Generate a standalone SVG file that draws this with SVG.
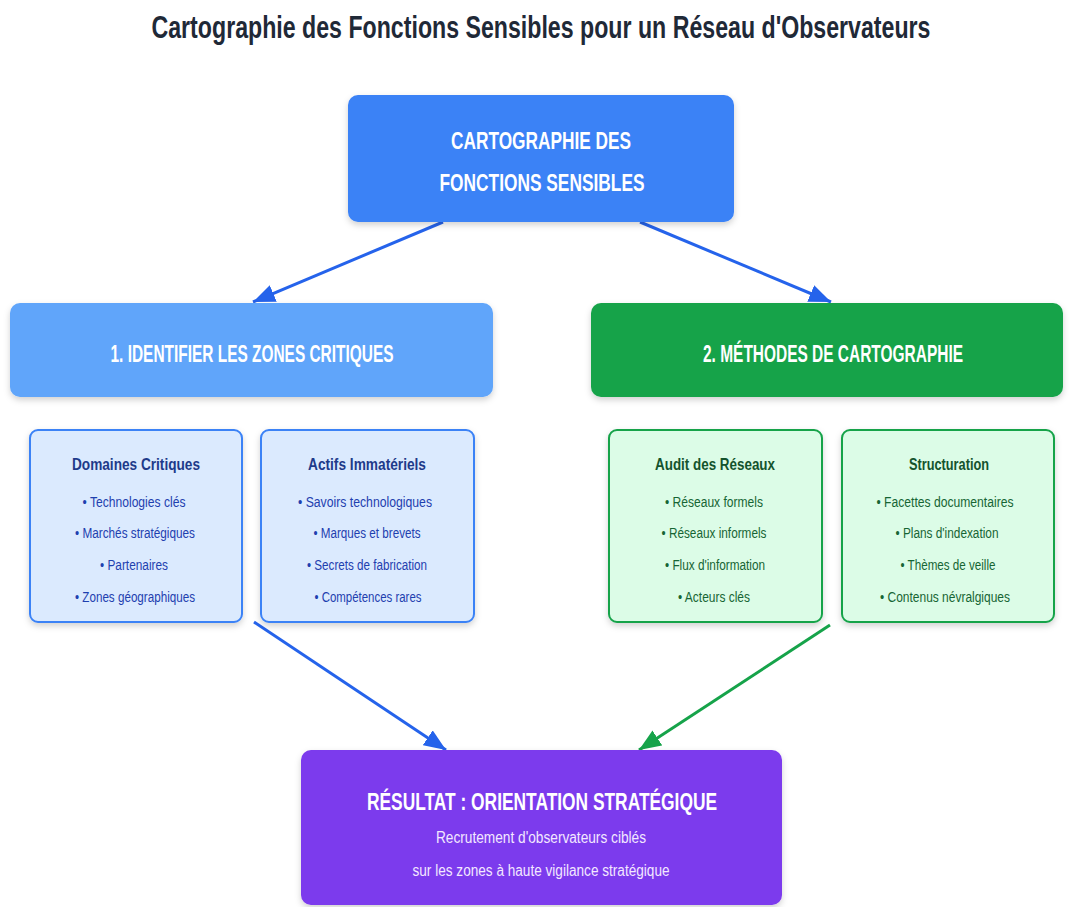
<svg xmlns="http://www.w3.org/2000/svg" width="1069" height="907" viewBox="0 0 1069 907">
<style>
text{font-family:"Liberation Sans",Arial,sans-serif;text-anchor:middle}
.title{font-size:31px;font-weight:bold;fill:#1f2937}
.wt{font-size:23px;font-weight:bold;fill:#ffffff}
.bt{font-size:16.5px;font-weight:bold;fill:#1e3a8a}
.bi{font-size:14px;fill:#1e40af}
.gt{font-size:16.5px;font-weight:bold;fill:#14532d}
.gi{font-size:14px;fill:#166534}
.rs{font-size:16px;fill:#f3e8ff}
.bbox{fill:#dbeafe;stroke:#3b82f6;stroke-width:2}
.gbox{fill:#dcfce7;stroke:#16a34a;stroke-width:2}
.cb{stroke:#2563eb;stroke-width:3;fill:none}
.cg{stroke:#16a34a;stroke-width:3;fill:none}
</style>
<defs>
<filter id="sh" x="-10%" y="-10%" width="120%" height="130%">
<feDropShadow dx="0" dy="3" stdDeviation="3" flood-color="#000" flood-opacity="0.18"/>
</filter>
<marker id="ab" viewBox="0 0 22 18" refX="22" refY="9" markerWidth="22" markerHeight="18" markerUnits="userSpaceOnUse" orient="auto">
<path d="M0,0 L22,9 L0,18 z" fill="#2563eb"/>
</marker>
<marker id="ag" viewBox="0 0 22 18" refX="22" refY="9" markerWidth="22" markerHeight="18" markerUnits="userSpaceOnUse" orient="auto">
<path d="M0,0 L22,9 L0,18 z" fill="#16a34a"/>
</marker>
</defs>
<rect width="1069" height="907" fill="#ffffff"/>
<text class="title" x="541" y="38" textLength="779" lengthAdjust="spacingAndGlyphs">Cartographie des Fonctions Sensibles pour un Réseau d'Observateurs</text>

<g id="connectors">
<line class="cb" x1="443" y1="222" x2="253" y2="302" marker-end="url(#ab)"/>
<line class="cb" x1="640" y1="222" x2="831" y2="302" marker-end="url(#ab)"/>
<line class="cb" x1="254" y1="622" x2="446" y2="750" marker-end="url(#ab)"/>
<line class="cg" x1="830" y1="625" x2="639" y2="750" marker-end="url(#ag)"/>
</g>

<g id="root">
<rect x="348" y="95" width="386" height="127" rx="10" fill="#3b82f6" filter="url(#sh)"/>
<text class="wt" x="541" y="149" textLength="180" lengthAdjust="spacingAndGlyphs">CARTOGRAPHIE DES</text>
<text class="wt" x="542" y="191" textLength="205" lengthAdjust="spacingAndGlyphs">FONCTIONS SENSIBLES</text>
</g>

<g id="zones">
<rect x="10" y="303" width="483" height="94" rx="10" fill="#60a5fa" filter="url(#sh)"/>
<text class="wt" x="252" y="362" textLength="283" lengthAdjust="spacingAndGlyphs">1. IDENTIFIER LES ZONES CRITIQUES</text>
</g>

<g id="methodes">
<rect x="591" y="303" width="472" height="94" rx="10" fill="#16a34a" filter="url(#sh)"/>
<text class="wt" x="833" y="362" textLength="260" lengthAdjust="spacingAndGlyphs">2. MÉTHODES DE CARTOGRAPHIE</text>
</g>

<g id="domaines">
<rect class="bbox" x="30" y="430" width="212" height="192" rx="8" filter="url(#sh)"/>
<text class="bt" x="136" y="470" textLength="128" lengthAdjust="spacingAndGlyphs">Domaines Critiques</text>
<text class="bi" x="134" y="507" textLength="103" lengthAdjust="spacingAndGlyphs">• Technologies clés</text>
<text class="bi" x="135" y="538" textLength="120" lengthAdjust="spacingAndGlyphs">• Marchés stratégiques</text>
<text class="bi" x="134" y="570" textLength="68" lengthAdjust="spacingAndGlyphs">• Partenaires</text>
<text class="bi" x="135" y="602" textLength="120" lengthAdjust="spacingAndGlyphs">• Zones géographiques</text>
</g>

<g id="actifs">
<rect class="bbox" x="261" y="430" width="213" height="192" rx="8" filter="url(#sh)"/>
<text class="bt" x="367" y="470" textLength="118" lengthAdjust="spacingAndGlyphs">Actifs Immatériels</text>
<text class="bi" x="365" y="507" textLength="134" lengthAdjust="spacingAndGlyphs">• Savoirs technologiques</text>
<text class="bi" x="367" y="538" textLength="107" lengthAdjust="spacingAndGlyphs">• Marques et brevets</text>
<text class="bi" x="367" y="570" textLength="120" lengthAdjust="spacingAndGlyphs">• Secrets de fabrication</text>
<text class="bi" x="368" y="602" textLength="107" lengthAdjust="spacingAndGlyphs">• Compétences rares</text>
</g>

<g id="audit">
<rect class="gbox" x="609" y="430" width="213" height="192" rx="8" filter="url(#sh)"/>
<text class="gt" x="715" y="470" textLength="120" lengthAdjust="spacingAndGlyphs">Audit des Réseaux</text>
<text class="gi" x="714" y="507" textLength="98" lengthAdjust="spacingAndGlyphs">• Réseaux formels</text>
<text class="gi" x="714" y="538" textLength="105" lengthAdjust="spacingAndGlyphs">• Réseaux informels</text>
<text class="gi" x="715" y="570" textLength="100" lengthAdjust="spacingAndGlyphs">• Flux d'information</text>
<text class="gi" x="714" y="602" textLength="72" lengthAdjust="spacingAndGlyphs">• Acteurs clés</text>
</g>

<g id="structuration">
<rect class="gbox" x="842" y="430" width="212" height="192" rx="8" filter="url(#sh)"/>
<text class="gt" x="949" y="470" textLength="80" lengthAdjust="spacingAndGlyphs">Structuration</text>
<text class="gi" x="945" y="507" textLength="137" lengthAdjust="spacingAndGlyphs">• Facettes documentaires</text>
<text class="gi" x="947" y="538" textLength="103" lengthAdjust="spacingAndGlyphs">• Plans d'indexation</text>
<text class="gi" x="948" y="570" textLength="95" lengthAdjust="spacingAndGlyphs">• Thèmes de veille</text>
<text class="gi" x="945" y="602" textLength="130" lengthAdjust="spacingAndGlyphs">• Contenus névralgiques</text>
</g>

<g id="resultat">
<rect x="301" y="750" width="481" height="155" rx="10" fill="#7c3aed" filter="url(#sh)"/>
<text class="wt" x="542" y="810" font-size="25" textLength="350" lengthAdjust="spacingAndGlyphs">RÉSULTAT : ORIENTATION STRATÉGIQUE</text>
<text class="rs" x="541" y="843" textLength="210" lengthAdjust="spacingAndGlyphs">Recrutement d'observateurs ciblés</text>
<text class="rs" x="541" y="876" textLength="257" lengthAdjust="spacingAndGlyphs">sur les zones à haute vigilance stratégique</text>
</g>
</svg>
